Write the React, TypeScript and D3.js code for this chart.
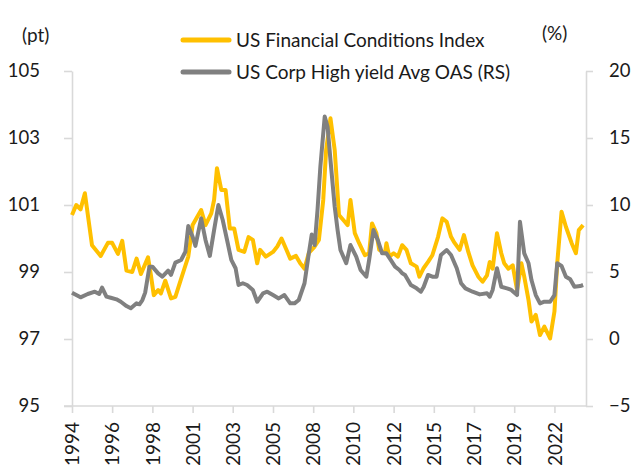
import { useEffect, useRef } from 'react';
import * as d3 from 'd3';

// US Financial Conditions Index (left scale, pt)
const fciDates = [
  '1994-01', '1994-04', '1994-07', '1994-10', '1995-03', '1995-09', '1996-02', '1996-05',
  '1996-09', '1996-12', '1997-03', '1997-07', '1997-10', '1998-01', '1998-06', '1998-08',
  '1998-10', '1999-01', '1999-03', '1999-06', '1999-10', '2000-01', '2000-04', '2000-07',
  '2000-10', '2001-01', '2001-07', '2001-10', '2002-02', '2002-04', '2002-06', '2002-09',
  '2002-12', '2003-03', '2003-06', '2003-09', '2004-01', '2004-04', '2004-07', '2004-10',
  '2004-12', '2005-04', '2005-09', '2005-12', '2006-03', '2006-06', '2006-09', '2007-01',
  '2007-04', '2007-07', '2007-10', '2008-02', '2008-05', '2008-08', '2008-10', '2009-01',
  '2009-04', '2009-06', '2009-07', '2009-11', '2010-01', '2010-03', '2010-06', '2010-09',
  '2011-01', '2011-04', '2011-06', '2011-09', '2011-11', '2012-03', '2012-04', '2012-06',
  '2012-09', '2012-12', '2013-03', '2013-06', '2013-09', '2014-01', '2014-03', '2014-06',
  '2014-09', '2014-12', '2015-04', '2015-07', '2015-10', '2016-01', '2016-03', '2016-07',
  '2016-10', '2017-01', '2017-04', '2017-08', '2017-11', '2018-02', '2018-04', '2018-06',
  '2018-09', '2018-12', '2019-02', '2019-05', '2019-08', '2019-11', '2020-02', '2020-04',
  '2020-07', '2020-09', '2020-12', '2021-03', '2021-06', '2021-10', '2022-01', '2022-03',
  '2022-06', '2022-09', '2023-01', '2023-04', '2023-06', '2023-09',
];
const fciValues = [
  100.7, 101.0, 100.87, 101.35, 99.8, 99.48, 99.87, 99.87,
  99.54, 99.93, 99.04, 99.0, 99.4, 98.94, 99.44, 98.9,
  98.31, 98.46, 98.36, 98.74, 98.21, 98.26, 98.66, 99.06,
  99.46, 100.4, 100.85, 100.4, 100.75, 101.15, 102.1, 101.45,
  101.45, 100.3, 100.3, 99.66, 99.6, 100.04, 99.96, 99.26,
  99.66, 99.46, 99.6, 99.76, 100.0, 99.7, 99.4, 99.48,
  99.26, 99.1, 99.57, 99.76, 99.96, 101.15, 102.64, 103.59,
  102.64, 101.35, 100.7, 100.5, 100.4, 101.15, 100.16, 99.86,
  99.5, 99.56, 100.45, 100.16, 99.66, 99.56, 99.86, 99.46,
  99.56, 99.46, 99.8, 99.66, 99.26, 99.16, 98.86, 99.12,
  99.3, 99.5, 100.05, 100.6, 100.5, 100.05, 99.9, 99.66,
  100.1, 99.6, 99.2, 98.86, 98.71, 98.9, 99.3, 99.1,
  100.16, 99.56, 99.26, 99.1, 99.2, 98.46, 99.26, 98.86,
  98.16, 97.52, 97.72, 97.12, 97.37, 97.02, 97.82, 99.26,
  100.8, 100.35, 99.86, 99.56, 100.25, 100.4,
];

// US Corp High yield Avg OAS (right scale, %)
const oasDates = [
  '1994-01', '1994-07', '1994-12', '1995-05', '1995-08', '1995-10', '1996-01', '1996-04',
  '1996-08', '1996-11', '1997-03', '1997-06', '1997-10', '1997-12', '1998-02', '1998-04',
  '1998-07', '1998-09', '1999-01', '1999-04', '1999-08', '1999-10', '2000-01', '2000-05',
  '2000-08', '2000-10', '2001-01', '2001-03', '2001-07', '2001-10', '2002-01', '2002-04',
  '2002-07', '2002-10', '2003-01', '2003-04', '2003-07', '2003-09', '2003-12', '2004-03',
  '2004-07', '2004-10', '2005-02', '2005-05', '2005-09', '2006-01', '2006-05', '2006-09',
  '2006-12', '2007-03', '2007-07', '2007-10', '2007-12', '2008-02', '2008-04', '2008-06',
  '2008-09', '2008-11', '2009-01', '2009-04', '2009-06', '2009-08', '2009-12', '2010-03',
  '2010-07', '2010-10', '2011-02', '2011-04', '2011-07', '2011-10', '2012-01', '2012-04',
  '2012-07', '2012-10', '2013-01', '2013-03', '2013-05', '2013-09', '2014-01', '2014-04',
  '2014-06', '2014-09', '2014-12', '2015-03', '2015-06', '2015-10', '2016-01', '2016-05',
  '2016-08', '2016-11', '2017-04', '2017-09', '2018-02', '2018-04', '2018-06', '2018-09',
  '2018-12', '2019-04', '2019-07', '2019-11', '2020-01', '2020-04', '2020-07', '2020-09',
  '2020-12', '2021-03', '2021-06', '2021-10', '2022-01', '2022-03', '2022-06', '2022-09',
  '2022-12', '2023-03', '2023-07', '2023-09',
];
const oasValues = [
  3.46, 3.11, 3.36, 3.53, 3.36, 3.83, 3.16, 3.08,
  2.96, 2.78, 2.46, 2.29, 2.66, 2.59, 2.91, 3.46,
  5.4, 5.4, 4.9, 4.65, 5.1, 4.78, 5.7, 5.9,
  6.51, 8.43, 7.63, 6.95, 9.0, 7.39, 6.2, 8.13,
  10.0, 8.88, 7.39, 5.9, 5.28, 4.03, 4.16, 4.03,
  3.66, 2.78, 3.41, 3.53, 3.28, 3.03, 3.28, 2.66,
  2.66, 2.91, 4.16, 6.4, 7.8, 7.01, 9.6, 12.86,
  16.6, 15.84, 13.36, 9.87, 8.13, 6.64, 5.65, 7.01,
  6.14, 5.15, 4.65, 5.9, 8.13, 7.39, 6.39, 6.39,
  5.9, 5.4, 5.15, 4.9, 4.78, 4.03, 3.78, 3.53,
  3.9, 4.78, 4.65, 4.65, 6.27, 6.64, 6.27, 5.28,
  4.16, 3.78, 3.53, 3.33, 3.41, 3.16, 3.66, 5.28,
  3.9, 3.78, 3.66, 3.28, 8.75, 6.39, 5.65, 4.4,
  3.28, 2.66, 2.78, 2.78, 3.28, 5.65, 5.45, 4.65,
  4.46, 3.9, 3.95, 4.03,
];

const xTickDates = [
  '1994-01', '1996-05', '1998-09', '2001-01', '2003-05', '2005-09', '2008-01',
  '2010-05', '2012-09', '2015-01', '2017-05', '2019-09', '2022-01',
];
const leftTicks = [95, 97, 99, 101, 103, 105];
const rightTicks = [-5, 0, 5, 10, 15, 20];
const seriesNames = ['US Financial Conditions Index', 'US Corp High yield Avg OAS (RS)'];

const YELLOW = '#ffc000';
const GREY = '#808080';
const AXIS = '#d9d9d9';
const INK = '#1a1a1a';
const FONT = 'Lato, "Open Sans", sans-serif';

const App = () => {
  const svgRef = useRef(null);

  useEffect(() => {
    const svg = d3.select(svgRef.current);
    svg.selectAll('*').remove();

    const parse = d3.timeParse('%Y-%m');
    const left = 72;
    const right = 586;
    const top = 71;
    const bottom = 406;

    const x = d3
      .scaleTime()
      .domain([parse('1994-01')!, parse('2023-11')!])
      .range([left, right]);
    const yL = d3.scaleLinear().domain([95, 105]).range([bottom, top]);
    const yR = d3.scaleLinear().domain([-5, 20]).range([bottom, top]);

    const styleAxis = (g: any, size: number) => {
      g.selectAll('path.domain').attr('stroke', AXIS).attr('stroke-width', 1.6);
      g.selectAll('.tick line').attr('stroke', AXIS).attr('stroke-width', 1.6);
      g.selectAll('text')
        .attr('fill', INK)
        .style('font-family', FONT)
        .style('font-size', `${size}px`);
    };

    // left axis
    svg
      .append('g')
      .attr('transform', `translate(${left},0)`)
      .call(
        d3.axisLeft(yL).tickValues(leftTicks).tickSize(8).tickSizeOuter(0).tickPadding(24)
      )
      .call(styleAxis, 18.5);

    // right axis
    svg
      .append('g')
      .attr('transform', `translate(${right},0)`)
      .call(
        d3.axisRight(yR).tickValues(rightTicks).tickSize(7).tickSizeOuter(0).tickPadding(16)
      )
      .call(styleAxis, 18.5);

    // bottom axis
    const xAxis = d3
      .axisBottom(x)
      .tickValues(xTickDates.map((d) => parse(d)!))
      .tickSize(7)
      .tickSizeOuter(0)
      // @ts-expect-error date formatter
      .tickFormat(d3.timeFormat('%Y'));
    const gx = svg
      .append('g')
      .attr('transform', `translate(0,${bottom})`)
      .call(xAxis)
      .call(styleAxis, 19);
    gx.select('path.domain').attr('d', `M${left - 8},0H${right}`);
    gx.selectAll('text')
      .attr('transform', 'rotate(-90)')
      .attr('x', -16)
      .attr('y', 0)
      .attr('dy', '0.35em')
      .style('text-anchor', 'end');

    // lines
    const fciLine = d3
      .line<number>()
      .x((_, i) => x(parse(fciDates[i])!))
      .y((d) => yL(d));
    const oasLine = d3
      .line<number>()
      .x((_, i) => x(parse(oasDates[i])!))
      .y((d) => yR(d));

    svg
      .append('path')
      .datum(fciValues)
      .attr('d', fciLine)
      .attr('fill', 'none')
      .attr('stroke', YELLOW)
      .attr('stroke-width', 4)
      .attr('stroke-linejoin', 'round');
    svg
      .append('path')
      .datum(oasValues)
      .attr('d', oasLine)
      .attr('fill', 'none')
      .attr('stroke', GREY)
      .attr('stroke-width', 4)
      .attr('stroke-linejoin', 'round');

    // unit labels
    svg
      .append('text')
      .attr('x', 22)
      .attr('y', 35)
      .attr('dy', '0.35em')
      .text('(pt)')
      .attr('fill', INK)
      .style('font-family', FONT)
      .style('font-size', '19px');
    svg
      .append('text')
      .attr('x', 542)
      .attr('y', 33)
      .attr('dy', '0.35em')
      .text('(%)')
      .attr('fill', INK)
      .style('font-family', FONT)
      .style('font-size', '19px');

    // legend
    const legend = svg
      .selectAll('g.legend')
      .data(seriesNames)
      .enter()
      .append('g')
      .attr('class', 'legend')
      .attr('transform', (_, i) => `translate(181,${40 + i * 32})`);
    legend
      .append('line')
      .attr('x1', 2)
      .attr('x2', 48)
      .attr('stroke', (_, i) => (i === 0 ? YELLOW : GREY))
      .attr('stroke-width', 5)
      .attr('stroke-linecap', 'round');
    legend
      .append('text')
      .attr('x', 55)
      .attr('dy', '0.35em')
      .text((d) => d)
      .attr('fill', INK)
      .style('font-family', FONT)
      .style('font-size', '19px');
  }, []);

  return (
    <svg
      ref={svgRef}
      width={634}
      height={466}
      style={{ position: 'absolute', left: 0, top: 0, background: '#fff' }}
    ></svg>
  );
};

export default App;
